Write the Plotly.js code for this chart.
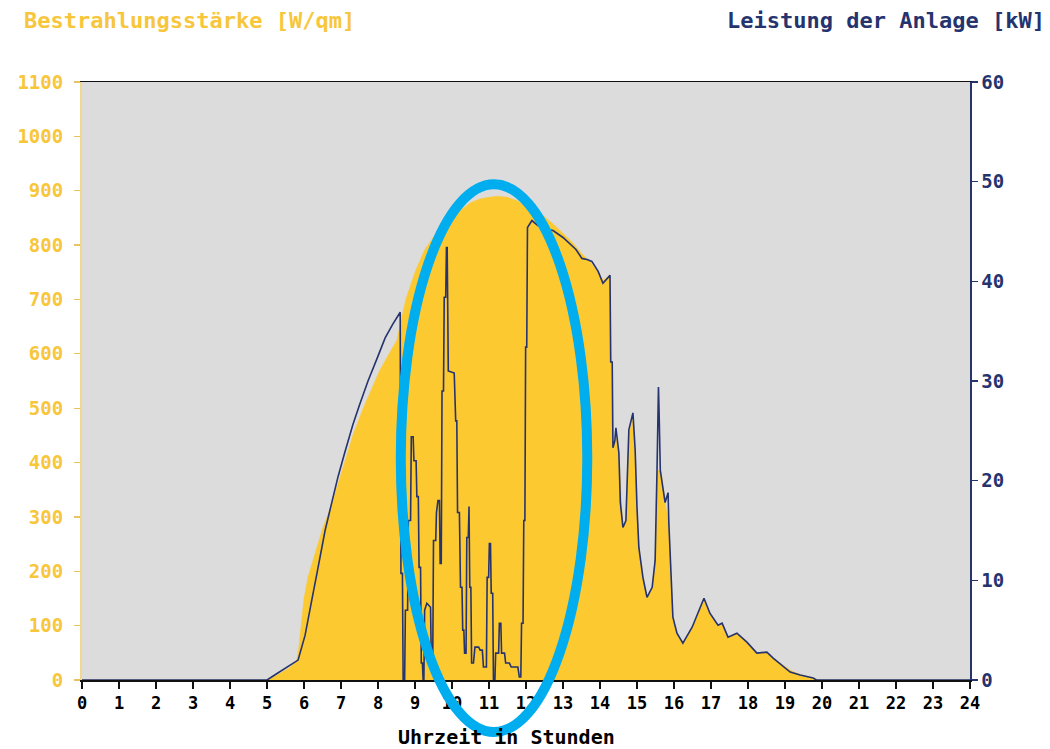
<!DOCTYPE html>
<html>
<head>
<meta charset="utf-8">
<script src="https://cdn.plot.ly/plotly-3.0.1.min.js"></script>
<style>html,body{margin:0;padding:0;background:#fff;}#chart{width:1050px;height:749px;}</style>
</head>
<body>
<div id="chart"></div>
<script>
// Irradiance (W/qm) over time of day (hours)
const irrTime = [0, 5.0, 5.3, 5.6, 5.8, 5.86, 5.9, 6.0, 6.11, 6.3, 6.5, 6.76, 7.0, 7.32, 7.6, 8.05, 8.3, 8.51, 8.75, 9.0, 9.25, 9.5, 9.75, 10.0, 10.25, 10.5, 10.75, 11.0, 11.25, 11.5, 11.75, 12.0, 12.25, 12.5, 12.75, 13.0, 13.25, 13.5, 13.75, 14.0, 14.08, 14.27, 14.3, 14.35, 14.43, 14.51, 14.62, 14.7, 14.78, 14.89, 14.95, 15.0, 15.05, 15.16, 15.27, 15.41, 15.49, 15.54, 15.65, 15.76, 15.86, 15.92, 15.97, 16.08, 16.24, 16.49, 16.7, 16.81, 16.97, 17.19, 17.3, 17.46, 17.7, 17.97, 18.24, 18.51, 18.68, 19.14, 19.41, 19.76, 19.9, 24];
const irrValue = [0, 0, 10, 22, 35, 60, 86, 150, 190, 235, 278, 325, 380, 450, 500, 570, 600, 625, 700, 750, 790, 815, 835, 850, 865, 878, 885, 888, 890, 888, 882, 872, 862, 852, 838, 822, 805, 785, 768, 745, 735, 745, 580, 420, 450, 415, 280, 295, 450, 480, 420, 315, 245, 190, 150, 170, 220, 385, 385, 325, 290, 190, 115, 85, 68, 97, 134, 150, 123, 100, 104, 79, 86, 70, 50, 51, 40, 18, 10, 4, 0, 0];

// Plant power output (kW) over time of day (hours)
const powTime = [0, 5.0, 5.25, 5.5, 5.75, 5.84, 6.03, 6.1, 6.25, 6.35, 6.57, 6.75, 6.92, 7.1, 7.32, 7.5, 7.73, 8.0, 8.19, 8.4, 8.54, 8.6, 8.62, 8.66, 8.68, 8.72, 8.74, 8.8, 8.82, 8.88, 8.9, 8.95, 8.97, 9.03, 9.05, 9.09, 9.11, 9.15, 9.17, 9.2, 9.22, 9.24, 9.26, 9.32, 9.42, 9.44, 9.48, 9.5, 9.56, 9.58, 9.62, 9.66, 9.68, 9.71, 9.73, 9.77, 9.79, 9.83, 9.85, 9.87, 9.9, 10.06, 10.1, 10.13, 10.15, 10.2, 10.23, 10.27, 10.29, 10.32, 10.34, 10.38, 10.4, 10.44, 10.46, 10.48, 10.51, 10.53, 10.58, 10.62, 10.72, 10.76, 10.82, 10.85, 10.93, 10.95, 10.99, 11.01, 11.04, 11.06, 11.1, 11.12, 11.16, 11.18, 11.26, 11.28, 11.32, 11.34, 11.42, 11.45, 11.55, 11.6, 11.78, 11.82, 11.86, 11.88, 11.92, 11.94, 11.97, 11.99, 12.02, 12.04, 12.16, 12.32, 12.5, 12.73, 13.0, 13.19, 13.35, 13.51, 13.65, 13.78, 13.95, 14.08, 14.18, 14.27, 14.29, 14.33, 14.35, 14.4, 14.43, 14.51, 14.55, 14.62, 14.7, 14.73, 14.78, 14.89, 14.95, 15.0, 15.05, 15.16, 15.27, 15.41, 15.49, 15.54, 15.58, 15.6, 15.63, 15.76, 15.84, 15.86, 15.92, 15.97, 16.08, 16.24, 16.49, 16.7, 16.81, 16.97, 17.19, 17.3, 17.46, 17.7, 17.97, 18.24, 18.51, 18.68, 19.14, 19.41, 19.76, 19.85, 24];
const powValue = [0, 0, 0.6, 1.2, 1.8, 2.0, 4.5, 6, 8.8, 10.7, 15, 17.8, 20.4, 22.8, 25.6, 27.6, 30, 32.5, 34.3, 35.7, 36.6, 36.9, 10.7, 10.7, 0, 0, 7, 7, 16, 16, 24.4, 24.4, 22, 22, 18.4, 18.4, 11.3, 11.3, 1.7, 1.7, 0, 0, 7, 7.7, 7.3, 2.3, 2.3, 14, 14, 16.8, 18, 18, 11.7, 11.7, 29, 29, 38.4, 38.4, 43.4, 43.4, 31, 30.8, 26, 26, 16.8, 16.8, 9.3, 9.3, 5, 5, 2.7, 2.7, 14.3, 14.3, 17.4, 9.3, 9.3, 1.7, 1.7, 3.3, 3.3, 3, 3, 1.3, 1.3, 10.3, 10.3, 13.7, 13.7, 8.7, 8.7, 0, 0, 2.7, 2.7, 5.7, 5.7, 2.7, 2.7, 1.7, 1.7, 1.3, 1.3, 0.3, 0.3, 5.7, 5.7, 16, 16, 33.4, 33.4, 45.4, 46.1, 45.6, 45.3, 45.1, 44.4, 43.8, 43.2, 42.3, 42.2, 42, 41, 39.8, 40.2, 40.6, 31.9, 31.9, 23.3, 24, 25.3, 22.8, 17.8, 15.3, 16, 20.4, 25.1, 26.8, 23.1, 17.3, 13.3, 10.3, 8.3, 9.3, 12, 20.9, 29.4, 26.4, 21, 17.8, 18.8, 15.8, 10.2, 6.3, 4.7, 3.7, 5.3, 7.3, 8.2, 6.7, 5.5, 5.7, 4.3, 4.7, 3.8, 2.7, 2.8, 2.2, 0.8, 0.5, 0.2, 0, 0];

const hourTicks = [0,1,2,3,4,5,6,7,8,9,10,11,12,13,14,15,16,17,18,19,20,21,22,23,24];
const irrTicks = [0,100,200,300,400,500,600,700,800,900,1000,1100];
const powTicks = [0,10,20,30,40,50,60];

const leftTitle = 'Bestrahlungsstärke [W/qm]';
const rightTitle = 'Leistung der Anlage [kW]';
const xTitle = 'Uhrzeit in Stunden';

const FONT = '"DejaVu Sans Mono", "Liberation Mono", monospace';
const YELLOW = '#F7C63A';
const NAVY = '#25336F';

const traces = [
  {
    x: irrTime, y: irrValue, type: 'scatter', mode: 'lines',
    fill: 'tozeroy', fillcolor: '#FDC931',
    line: {color: '#FDC931', width: 0.5},
    yaxis: 'y', hoverinfo: 'x+y', showlegend: false
  },
  {
    x: powTime, y: powValue, type: 'scatter', mode: 'lines',
    line: {color: NAVY, width: 1.6},
    yaxis: 'y2', hoverinfo: 'x+y', showlegend: false
  }
];

const layout = {
  width: 1050, height: 749,
  margin: {l: 82, r: 80, t: 82, b: 69},
  paper_bgcolor: '#FFFFFF',
  plot_bgcolor: '#DCDCDC',
  showlegend: false,
  font: {family: FONT, size: 17, color: '#000'},
  xaxis: {
    range: [0, 24], tickvals: hourTicks, ticktext: hourTicks.map(String),
    showgrid: false, zeroline: false,
    showline: true, linecolor: '#111', linewidth: 1.5, mirror: true,
    ticks: 'outside', ticklen: 7, tickwidth: 1.5, tickcolor: '#111',
    tickfont: {family: FONT, size: 17, color: '#000', weight: 'bold'}
  },
  yaxis: {
    range: [0, 1100], tickvals: irrTicks, ticktext: irrTicks.map(String),
    showgrid: false, zeroline: false,
    showline: true, linecolor: '#F0D98E', linewidth: 2,
    ticks: 'outside', ticklen: 6, tickwidth: 1.2, tickcolor: '#E8C460',
    ticklabelstandoff: 7,
    tickfont: {family: FONT, size: 19, color: YELLOW, weight: 'bold'}
  },
  yaxis2: {
    range: [0, 60], tickvals: powTicks, ticktext: powTicks.map(String),
    overlaying: 'y', side: 'right',
    showgrid: false, zeroline: false,
    showline: true, linecolor: NAVY, linewidth: 1.5,
    ticks: 'outside', ticklen: 6, tickwidth: 1.2, tickcolor: NAVY,
    tickfont: {family: FONT, size: 19, color: NAVY, weight: 'bold'}
  },
  annotations: [
    {text: leftTitle, xref: 'paper', yref: 'paper', x: -0.068, y: 1.103,
     xanchor: 'left', yanchor: 'middle', showarrow: false,
     font: {family: FONT, size: 22, color: YELLOW, weight: 'bold'}},
    {text: rightTitle, xref: 'paper', yref: 'paper', x: 1.087, y: 1.103,
     xanchor: 'right', yanchor: 'middle', showarrow: false,
     font: {family: FONT, size: 22, color: NAVY, weight: 'bold'}},
    {text: xTitle, xref: 'paper', yref: 'paper', x: 0.4786, y: -0.0953,
     xanchor: 'center', yanchor: 'middle', showarrow: false,
     font: {family: FONT, size: 20, color: '#000', weight: 'bold'}}
  ],
  shapes: [
    {type: 'circle', xref: 'paper', yref: 'paper',
     x0: 0.359, x1: 0.569, y0: -0.087, y1: 0.829,
     line: {color: '#00AEEF', width: 10}, layer: 'above'}
  ]
};

Plotly.newPlot('chart', traces, layout, {displayModeBar: false, staticPlot: true});
</script>
</body>
</html>
